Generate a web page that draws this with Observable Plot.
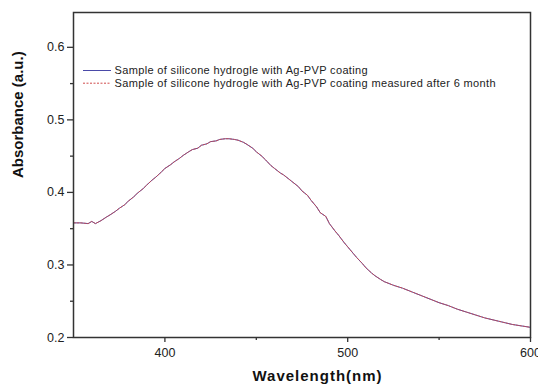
<!DOCTYPE html>
<html>
<head>
<meta charset="utf-8">
<script src="https://cdn.jsdelivr.net/npm/d3@7"></script>
<script src="https://cdn.jsdelivr.net/npm/@observablehq/plot@0.6"></script>
<style>
  html, body { margin: 0; padding: 0; background: #fff; }
  #chart { position: relative; width: 538px; height: 391px; }
  svg { font-family: "Liberation Sans", Arial, sans-serif; }
</style>
</head>
<body>
<div id="chart"></div>
<script>
// Wavelength (nm)
const wavelength = [350, 354, 358, 360, 362, 365, 368, 370, 373, 375, 378, 380, 383, 385, 388, 390, 393, 395, 398, 400,
  403, 405, 408, 410, 413, 415, 418, 420, 423, 425, 428, 430, 433, 435, 438, 440, 443, 445, 448, 450,
  453, 455, 458, 460, 463, 465, 468, 470, 473, 475, 478, 480, 483, 485, 488, 490, 493, 495, 498, 500,
  503, 505, 508, 510, 513, 515, 518, 520, 525, 530, 535, 540, 545, 550, 555, 560, 565, 570, 575, 580,
  585, 590, 595, 600];
// Absorbance of fresh sample
const absorbanceFresh = [0.358, 0.358, 0.357, 0.360, 0.357, 0.361, 0.366, 0.369, 0.374, 0.378, 0.383, 0.388, 0.394, 0.399, 0.405, 0.410, 0.417, 0.421, 0.428, 0.433,
  0.438, 0.442, 0.447, 0.451, 0.456, 0.459, 0.461, 0.465, 0.467, 0.470, 0.471, 0.473, 0.474, 0.474, 0.473, 0.472, 0.469, 0.466, 0.461, 0.456,
  0.450, 0.445, 0.437, 0.433, 0.427, 0.424, 0.418, 0.414, 0.408, 0.402, 0.396, 0.389, 0.380, 0.372, 0.367, 0.357, 0.347, 0.341, 0.331, 0.325,
  0.316, 0.310, 0.302, 0.296, 0.289, 0.285, 0.280, 0.277, 0.272, 0.268, 0.263, 0.258, 0.253, 0.248, 0.244, 0.239, 0.235, 0.231, 0.227, 0.224,
  0.221, 0.218, 0.216, 0.214];
// Absorbance measured after 6 months
const absorbanceAged = [0.358, 0.358, 0.357, 0.360, 0.357, 0.361, 0.366, 0.369, 0.374, 0.378, 0.383, 0.388, 0.394, 0.399, 0.405, 0.410, 0.417, 0.421, 0.428, 0.433,
  0.438, 0.442, 0.447, 0.451, 0.456, 0.459, 0.461, 0.465, 0.467, 0.470, 0.471, 0.473, 0.474, 0.474, 0.473, 0.472, 0.469, 0.466, 0.461, 0.456,
  0.450, 0.445, 0.437, 0.433, 0.427, 0.424, 0.418, 0.414, 0.408, 0.402, 0.396, 0.389, 0.380, 0.372, 0.367, 0.357, 0.347, 0.341, 0.331, 0.325,
  0.316, 0.310, 0.302, 0.296, 0.289, 0.285, 0.280, 0.277, 0.272, 0.268, 0.263, 0.258, 0.253, 0.248, 0.244, 0.239, 0.235, 0.231, 0.227, 0.224,
  0.221, 0.218, 0.216, 0.214];

const seriesNames = [
  "Sample of silicone hydrogle with Ag-PVP coating",
  "Sample of silicone hydrogle with Ag-PVP coating measured after 6 month"
];
const xMajorTicks = [400, 500, 600];
const xMinorTicks = [450, 550];
const yMajorTicks = [0.2, 0.3, 0.4, 0.5, 0.6];
const yMinorTicks = [0.25, 0.35, 0.45, 0.55];

const fresh = wavelength.map((w, i) => ({w, a: absorbanceFresh[i]}));
const aged = wavelength.map((w, i) => ({w, a: absorbanceAged[i]}));

const axisColor = "#333";
const blue = "#4a4aa8", red = "#d04a4a";
const chart = Plot.plot({
  width: 538,
  height: 391,
  marginLeft: 73,
  marginRight: 8,
  marginTop: 12,
  marginBottom: 54,
  style: {fontFamily: "Liberation Sans, Arial, sans-serif", background: "#fff"},
  x: {domain: [350, 600]},
  y: {domain: [0.2, 0.648]},
  marks: [
    Plot.lineY(fresh, {x: "w", y: "a", stroke: blue, strokeWidth: 1}),
    Plot.lineY(aged, {x: "w", y: "a", stroke: red, strokeWidth: 1, strokeDasharray: "2,1.5", strokeOpacity: 0.85}),
    Plot.frame({stroke: axisColor, strokeWidth: 1.5}),
    Plot.axisX({ticks: xMajorTicks, tickSize: 5, tickPadding: 6, tickFormat: d => String(d), fontSize: 12.5, color: "#222", stroke: axisColor, strokeWidth: 1.3, label: null}),
    Plot.axisX({ticks: xMinorTicks, tickSize: 3, tickFormat: () => "", stroke: axisColor, strokeWidth: 1.3, label: null}),
    Plot.axisY({ticks: yMajorTicks, tickSize: 6, tickPadding: 3, tickFormat: d => d.toFixed(1), fontSize: 12.5, color: "#222", stroke: axisColor, strokeWidth: 1.3, label: null}),
    Plot.axisY({ticks: yMinorTicks, tickSize: 3, tickFormat: () => "", stroke: axisColor, strokeWidth: 1.3, label: null}),
    Plot.text(["Wavelength(nm)"], {frameAnchor: "bottom", dy: 43, dx: 15.5, fontSize: 15, fontWeight: "bold", fill: "#111", style: "letter-spacing:1px"}),
    Plot.text(["Absorbance (a.u.)"], {frameAnchor: "left", dx: -55, dy: 3, rotate: -90, fontSize: 15, fontWeight: "bold", fill: "#111"})
  ]
});
document.getElementById("chart").appendChild(chart);

// letter spacing on the x title (stretched look of the original)
d3.select(chart).selectAll("text").filter(function() { return this.textContent === "Wavelength(nm)"; })
  .attr("letter-spacing", 1);

// Legend inside the frame
const svg = d3.select(chart);
const lg = svg.append("g").attr("font-size", 11).attr("fill", "#222").attr("text-anchor", "start").attr("letter-spacing", 0.35);
const legendStyles = [
  {stroke: blue, dash: null},
  {stroke: red, dash: "2,1.5"}
];
seriesNames.forEach((name, i) => {
  const y = 70.5 + i * 12.7;
  lg.append("line").attr("x1", 83).attr("x2", 111).attr("y1", y).attr("y2", y)
    .attr("stroke", legendStyles[i].stroke).attr("stroke-width", 1)
    .attr("stroke-dasharray", legendStyles[i].dash);
  lg.append("text").attr("x", 114.5).attr("y", y).attr("dy", "0.35em").attr("text-anchor", "start").text(name);
});
</script>
</body>
</html>
